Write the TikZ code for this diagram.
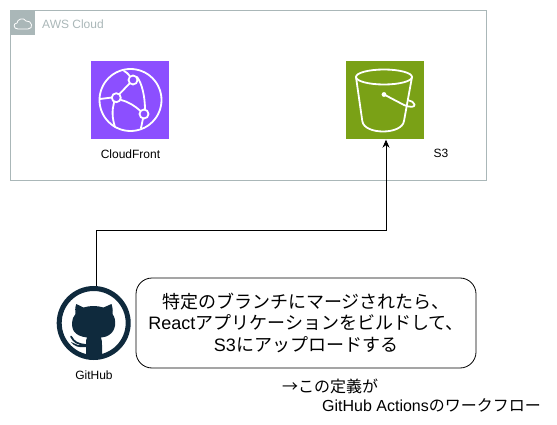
\documentclass[tikz,border=0pt]{standalone}
\usepackage{fontspec}
\setmainfont{Liberation Sans}
\newfontfamily\jp{Noto Sans CJK JP}
\usetikzlibrary{arrows.meta}
\definecolor{awsgrey}{HTML}{AAB7B8}
\definecolor{cfpurple}{HTML}{8C4FFF}
\definecolor{sgreen}{HTML}{7AA116}
\definecolor{ghnavy}{HTML}{0F2A3D}
\tikzset{
  px/.style={x=1pt,y=-1pt},
  iconline/.style={draw=white,line width=1.8pt,line cap=round,line join=round},
  lab/.style={font=\fontsize{12}{14}\selectfont,inner sep=0pt,text=black},
  msg/.style={font=\fontsize{18}{21.5}\selectfont\jp,align=center,inner sep=0pt,text=black},
  note/.style={anchor=west,font=\fontsize{16}{18}\selectfont\jp,inner sep=0pt,text=black},
  flow/.style={draw=black,line width=0.75pt,-{Stealth[length=8pt,width=7pt]}}
}
\begin{document}
\begin{tikzpicture}[px]
\useasboundingbox (0,0) rectangle (557,425);
% cloud group
\node[draw=awsgrey,line width=0.8pt,minimum width=476pt,minimum height=170pt,anchor=north west,inner sep=0pt] (cloud) at (10,10) {};
\node[fill=awsgrey,minimum size=25pt,inner sep=0pt,anchor=north west] (cloudtag) at (10,10) {};
\draw[white,line width=0.8pt,line join=round] (18,29) .. controls (13,29) and (13,23) .. (17,23) .. controls (17,19) and (24,17) .. (26,21) .. controls (32,20) and (34,29) .. (28,29) -- cycle;
\node[anchor=west,font=\fontsize{12}{14}\selectfont,text=awsgrey,inner sep=0pt] (cloudlab) at (42,24) {AWS Cloud};
% CloudFront
\node[fill=cfpurple,minimum size=78pt,inner sep=0pt] (cf) at (130,100) {};
\draw[iconline] (130.5,100) circle (31);
\draw[iconline] (116.3,97.7) circle (4.5);
\draw[iconline] (133,80) circle (4.5);
\draw[iconline] (144,114) circle (4.5);
\draw[iconline] (119.5,94) -- (129.5,83.5);
\draw[iconline] (121,100) .. controls (129,102) and (135,106) .. (140.5,111);
\draw[iconline] (137,77) .. controls (142,83) and (145,97) .. (145,109.5);
\draw[iconline] (114,102.5) .. controls (112,110) and (112,118) .. (115,127);
\draw[iconline] (100,99) -- (112,97.5);
\draw[iconline] (124,71) .. controls (126,72) and (128,73.5) .. (130,76.5);
\draw[iconline] (143,118.5) -- (141,128);
\node[lab,anchor=center] (cflab) at (130.5,154) {CloudFront};
% S3
\node[fill=sgreen,minimum size=78pt,inner sep=0pt] (s3) at (385,100.5) {};
\draw[iconline] (384,77) ellipse (28 and 7.5);
\draw[iconline] (356,77) -- (362.3,121) .. controls (364,135) and (402,135) .. (404,121) -- (412,77);
\draw[iconline] (384,94.5) -- (404,105) .. controls (410,107.5) and (415,107.5) .. (414.5,104.5) .. controls (414,102) and (411,101) .. (409,100.5);
\fill[white] (384,94.5) circle (2.4);
\node[lab,anchor=center] (s3lab) at (441,153.5) {S3};
% GitHub
\node[draw=ghnavy,line width=5pt,circle,minimum size=69pt,inner sep=0pt] (gh) at (93.7,323) {};
\fill[ghnavy] (76.2,304) -- (83.5,307.5) .. controls (90,305.5) and (97,305.5) .. (103.5,307.5) -- (111.5,304)
  .. controls (113,309) and (113,312) .. (112.5,314) .. controls (117,320) and (116,331) .. (109,335) .. controls (107,336.5) and (105,337) .. (101,337.5)
  .. controls (102,340) and (102,342) .. (102,345) -- (102,357.5) .. controls (97,359.5) and (91,359.5) .. (86,357.5) -- (86,347)
  .. controls (78,348) and (74,346) .. (71,342) .. controls (74,343) and (75,344) .. (78,345) .. controls (80,345.5) and (82,345.5) .. (86,344) .. controls (86,341) and (86,339) .. (87,337.5)
  .. controls (74,336) and (70,329) .. (73,318) .. controls (74,316) and (75,315) .. (75.5,314) .. controls (75,311) and (75,308) .. (76.2,304) -- cycle;
\draw[ghnavy,line width=1.8pt,line cap=round] (71,336.5) .. controls (74,342) and (77,344) .. (86,345);
\node[lab,anchor=center] (ghlab) at (94,375) {GitHub};
% connector
\coordinate (corner1) at (96,230.5);
\coordinate (corner2) at (386,230.5);
\draw[flow] (gh.north -| corner1) -- (corner1) -- (corner2) -- (s3.south -| corner2);
% message
\node[draw=black,line width=0.8pt,rounded corners=16pt,minimum width=340pt,minimum height=90pt,inner sep=0pt] (bubble) at (306,323) {};
\node[msg] (msgtxt) at (306,322.5) {特定のブランチにマージされたら、\\{\fontspec{Liberation Sans}React}アプリケーションをビルドして、\\{\fontspec{Liberation Sans}S3}にアップロードする};
\node[note] (note1) at (282,386) {→この定義が};
\node[note] (note2) at (322,405) {{\fontspec{Liberation Sans}GitHub Actions}のワークフロー};
\end{tikzpicture}
\end{document}
